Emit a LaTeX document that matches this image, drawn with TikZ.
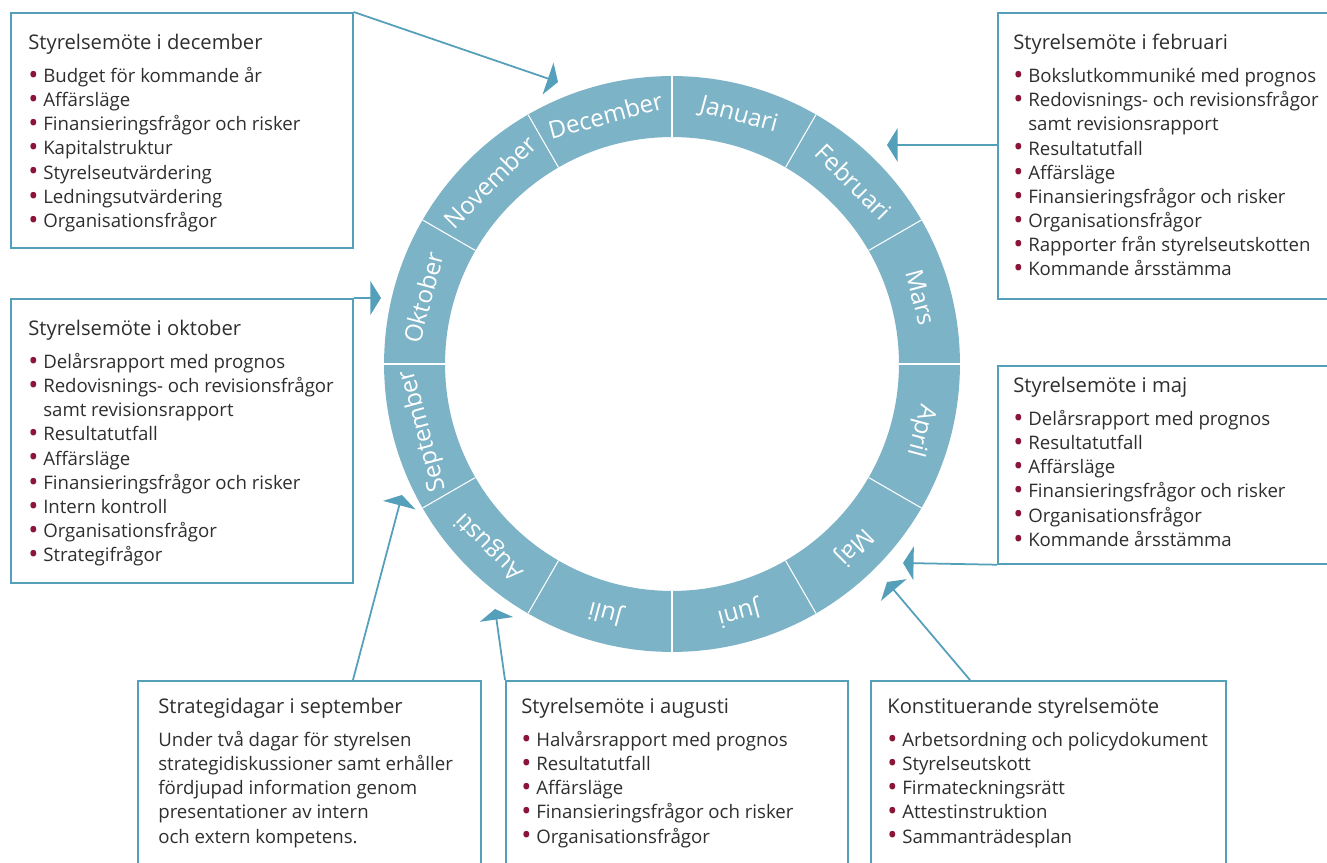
\documentclass[tikz,border=0pt]{standalone}
\usepackage{fontspec}
\setmainfont{Open Sans}
\usetikzlibrary{arrows.meta}
\definecolor{ringbla}{HTML}{7DB3C6}
\definecolor{linjebla}{HTML}{549FB9}
\definecolor{punktrod}{HTML}{8A1538}
\definecolor{textgra}{HTML}{2E2E2E}
\newcommand{\punkt}{\makebox[8.5pt][l]{\textcolor{punktrod}{\raisebox{-1.1pt}{\scalebox{1.45}{\textbullet}}}}}
\newcommand{\indrag}{\hspace*{8.5pt}}
\newcommand{\rubrik}[1]{{\fontsize{11.5}{13.7}\selectfont #1}}

\begin{document}
\begin{tikzpicture}[x=0.02cm, y=0.02cm,
		ruta/.style={draw=linjebla, line width=1pt, inner sep=0pt, anchor=north west},
		tekst/.style={anchor=north west, inner sep=0pt, align=left, text=textgra, font=\fontsize{10.6}{13.7}\selectfont},
		manad/.style={text=white, font=\fontsize{13.8}{16}\selectfont},
		pil/.style={draw=linjebla, line width=1pt, -{Triangle[width=19pt,length=6pt]}}]
		\useasboundingbox (0,0) rectangle (1327,862);
		
		% Ring
		\coordinate (c) at (672,498);
		\fill[ringbla, even odd rule] (c) circle[radius=5.76cm] circle[radius=4.54cm];
		\foreach \v in {0,30,...,330}
			\draw[white, line width=0.6pt] (c) ++(\v:4.54cm) -- ++(\v:1.22cm);		% Delstreck
		\foreach \m [count=\i] in {Januari,Februari,Mars,April,Maj,Juni,Juli,Augusti,September,Oktober,November,December}
			\node[manad, rotate=15-30*\i] (m\i) at ([shift={(105-30*\i:5.15cm)}]c) {\m};
		
		% Rutor
		\node[ruta, minimum width=6.84cm, minimum height=4.70cm] (dec) at (10,850) {};
		\node[ruta, minimum width=6.90cm, minimum height=5.72cm] (feb) at (997,850) {};
		\node[ruta, minimum width=6.84cm, minimum height=5.68cm] (okt) at (10,564) {};
		\node[ruta, minimum width=6.90cm, minimum height=3.96cm] (maj) at (997,497) {};
		\node[ruta, minimum width=6.86cm, minimum height=4.00cm] (strat) at (137,182) {};
		\node[ruta, minimum width=6.84cm, minimum height=4.00cm] (aug) at (505,182) {};
		\node[ruta, minimum width=7.10cm, minimum height=4.00cm] (konst) at (870,182) {};
		
		% Texter
		\node[tekst] (dectext) at (28,828) {\rubrik{Styrelsemöte i december}\\[5.1pt]
			\punkt Budget för kommande år\\
			\punkt Affärsläge\\
			\punkt Finansieringsfrågor och risker\\
			\punkt Kapitalstruktur\\
			\punkt Styrelseutvärdering\\
			\punkt Ledningsutvärdering\\
			\punkt Organisationsfrågor};
		\node[tekst] (febtext) at (1013,828) {\rubrik{Styrelsemöte i februari}\\[5.1pt]
			\punkt Bokslutkommuniké med prognos\\
			\punkt Redovisnings- och revisionsfrågor\\
			\indrag samt revisionsrapport\\
			\punkt Resultatutfall\\
			\punkt Affärsläge\\
			\punkt Finansieringsfrågor och risker\\
			\punkt Organisationsfrågor\\
			\punkt Rapporter från styrelseutskotten\\
			\punkt Kommande årsstämma};
		\node[tekst] (okttext) at (28,542) {\rubrik{Styrelsemöte i oktober}\\[5.1pt]
			\punkt Delårsrapport med prognos\\
			\punkt Redovisnings- och revisionsfrågor\\
			\indrag samt revisionsrapport\\
			\punkt Resultatutfall\\
			\punkt Affärsläge\\
			\punkt Finansieringsfrågor och risker\\
			\punkt Intern kontroll\\
			\punkt Organisationsfrågor\\
			\punkt Strategifrågor};
		\node[tekst] (majtext) at (1013,485) {\rubrik{Styrelsemöte i maj}\\[5.1pt]
			\punkt Delårsrapport med prognos\\
			\punkt Resultatutfall\\
			\punkt Affärsläge\\
			\punkt Finansieringsfrågor och risker\\
			\punkt Organisationsfrågor\\
			\punkt Kommande årsstämma};
		\node[tekst] (strattext) at (158,164) {\rubrik{Strategidagar i september}\\[5.1pt]
			Under två dagar för styrelsen\\
			strategidiskussioner samt erhåller\\
			fördjupad information genom\\
			presentationer av intern\\
			och extern kompetens.};
		\node[tekst] (augtext) at (521,164) {\rubrik{Styrelsemöte i augusti}\\[5.1pt]
			\punkt Halvårsrapport med prognos\\
			\punkt Resultatutfall\\
			\punkt Affärsläge\\
			\punkt Finansieringsfrågor och risker\\
			\punkt Organisationsfrågor};
		\node[tekst] (konsttext) at (887,164) {\rubrik{Konstituerande styrelsemöte}\\[5.1pt]
			\punkt Arbetsordning och policydokument\\
			\punkt Styrelseutskott\\
			\punkt Firmateckningsrätt\\
			\punkt Attestinstruktion\\
			\punkt Sammanträdesplan};
		
		% Pilar
		\coordinate (decpil) at (558,780);
		\coordinate (febpil) at (887,717);
		\coordinate (oktpil) at (381,564);
		\coordinate (majpil) at (903,299);
		\coordinate (konstpil) at (887,280);
		\coordinate (augpil) at (495,253);
		\coordinate (stratpil) at (402,367);
		\draw[pil] (dec.north east) -- (decpil);
		\draw[pil] (feb.west |- febpil) -- (febpil);
		\draw[pil] (okt.north east) -- (oktpil);
		\draw[pil] (maj.south west) -- (majpil);
		\draw[pil] ([xshift=2cm]konst.north west) -- (konstpil);
		\draw[pil] (aug.north west) -- (augpil);
		\draw[pil] ([xshift=4.32cm]strat.north west) -- (stratpil);
	\end{tikzpicture}
\end{document}
